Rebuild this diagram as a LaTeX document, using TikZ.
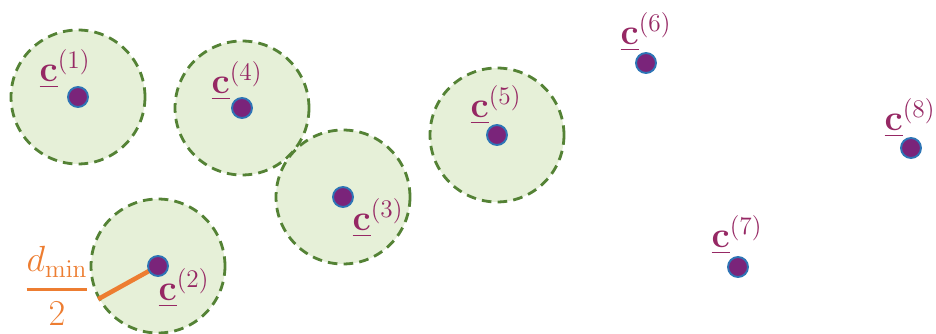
\documentclass[tikz,border=0pt]{standalone}
\usepackage{amsmath,amssymb}
\usepackage{xcolor}

\definecolor{zonefill}{RGB}{230,240,216}
\definecolor{zonedash}{RGB}{84,130,53}
\definecolor{ptfill}{RGB}{122,36,122}
\definecolor{ptedge}{RGB}{46,117,182}
\definecolor{lblcol}{RGB}{150,40,100}
\definecolor{dmincol}{RGB}{237,125,49}

\newcommand{\cvec}[1]{$\underline{\mathbf{c}}^{(#1)}$}

\tikzset{
	zone/.style={circle, minimum size=2.68cm, inner sep=0pt, fill=zonefill, draw=zonedash,
		line width=1.6pt, dash pattern=on 5.5pt off 3.5pt},
	pt/.style={circle, minimum size=0.4cm, inner sep=0pt, fill=ptfill, draw=ptedge, line width=1.1pt},
	clabel/.style={text=lblcol, inner sep=0pt, font=\fontsize{20}{24}\selectfont},
	halfdist/.style={draw=dmincol, line width=2.6pt}
}

\begin{document}
\begin{tikzpicture}[x=0.02cm, y=-0.02cm]
	\useasboundingbox (0, 0) rectangle (936, 334);
	% Exclusion zones:
	\node[zone](z1) at (78, 97){};
	\node[zone](z4) at (242, 108){};
	\node[zone](z3) at (343, 197){};
	\node[zone](z5) at (497, 135){};
	\node[zone](z2) at (158, 266){};
	% Radius d_min/2:
	\draw[halfdist] (z2.center) -- (z2.209);
	\node[text=dmincol, inner sep=0pt, font=\fontsize{20}{24}\selectfont](dmin) at (57, 286)
		{$\genfrac{}{}{2pt}{0}{d_{\min}}{2}$};
	% Points and labels:
	\node[pt](c1) at (78, 97){};
	\node[pt](c2) at (158, 266){};
	\node[pt](c3) at (343, 197){};
	\node[pt](c4) at (242, 108){};
	\node[pt](c5) at (497, 135){};
	\node[pt](c6) at (646, 63){};
	\node[pt](c7) at (738, 267){};
	\node[pt](c8) at (911, 148){};
	\node[clabel](l1) at (65, 69){\cvec{1}};
	\node[clabel](l2) at (184, 288){\cvec{2}};
	\node[clabel](l3) at (378, 218){\cvec{3}};
	\node[clabel](l4) at (237, 81){\cvec{4}};
	\node[clabel](l5) at (496, 105){\cvec{5}};
	\node[clabel](l6) at (646, 32){\cvec{6}};
	\node[clabel](l7) at (737, 235){\cvec{7}};
	\node[clabel](l8) at (910, 118){\cvec{8}};
\end{tikzpicture}
\end{document}
